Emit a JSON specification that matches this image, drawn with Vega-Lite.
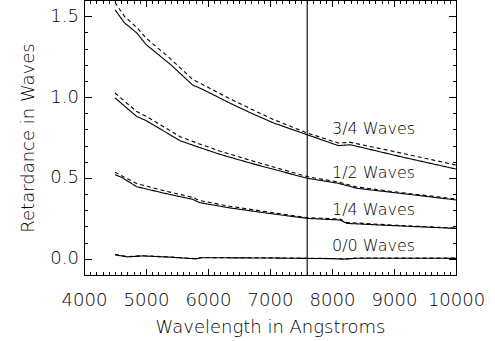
{
  "$schema": "https://vega.github.io/schema/vega-lite/v6.json",
  "width": 372,
  "height": 275,
  "autosize": "none",
  "padding": {"left": 84, "top": 0, "right": 39, "bottom": 66},
  "background": "white",
  "config": {
    "font": "DejaVu Sans",
    "view": {"stroke": "black", "strokeWidth": 1}
  },
  "datasets": {
    "curves": [
      {"w": 4500, "r": 1.54, "curve": "3/4", "kind": "measured"},
      {"w": 4650, "r": 1.46, "curve": "3/4", "kind": "measured"},
      {"w": 4850, "r": 1.397, "curve": "3/4", "kind": "measured"},
      {"w": 5000, "r": 1.325, "curve": "3/4", "kind": "measured"},
      {"w": 5400, "r": 1.2, "curve": "3/4", "kind": "measured"},
      {"w": 5750, "r": 1.075, "curve": "3/4", "kind": "measured"},
      {"w": 5900, "r": 1.05, "curve": "3/4", "kind": "measured"},
      {"w": 6350, "r": 0.963, "curve": "3/4", "kind": "measured"},
      {"w": 6700, "r": 0.9, "curve": "3/4", "kind": "measured"},
      {"w": 7050, "r": 0.841, "curve": "3/4", "kind": "measured"},
      {"w": 7600, "r": 0.767, "curve": "3/4", "kind": "measured"},
      {"w": 8100, "r": 0.7, "curve": "3/4", "kind": "measured"},
      {"w": 8300, "r": 0.705, "curve": "3/4", "kind": "measured"},
      {"w": 9100, "r": 0.632, "curve": "3/4", "kind": "measured"},
      {"w": 10000, "r": 0.555, "curve": "3/4", "kind": "measured"},

      {"w": 4500, "r": 1.585, "curve": "3/4", "kind": "model"},
      {"w": 4650, "r": 1.5, "curve": "3/4", "kind": "model"},
      {"w": 4850, "r": 1.43, "curve": "3/4", "kind": "model"},
      {"w": 5000, "r": 1.365, "curve": "3/4", "kind": "model"},
      {"w": 5400, "r": 1.235, "curve": "3/4", "kind": "model"},
      {"w": 5750, "r": 1.11, "curve": "3/4", "kind": "model"},
      {"w": 5900, "r": 1.08, "curve": "3/4", "kind": "model"},
      {"w": 6350, "r": 0.99, "curve": "3/4", "kind": "model"},
      {"w": 6700, "r": 0.925, "curve": "3/4", "kind": "model"},
      {"w": 7050, "r": 0.862, "curve": "3/4", "kind": "model"},
      {"w": 7600, "r": 0.778, "curve": "3/4", "kind": "model"},
      {"w": 8100, "r": 0.716, "curve": "3/4", "kind": "model"},
      {"w": 8300, "r": 0.72, "curve": "3/4", "kind": "model"},
      {"w": 9100, "r": 0.655, "curve": "3/4", "kind": "model"},
      {"w": 10000, "r": 0.58, "curve": "3/4", "kind": "model"},

      {"w": 4500, "r": 0.995, "curve": "1/2", "kind": "measured"},
      {"w": 4850, "r": 0.88, "curve": "1/2", "kind": "measured"},
      {"w": 5000, "r": 0.855, "curve": "1/2", "kind": "measured"},
      {"w": 5550, "r": 0.73, "curve": "1/2", "kind": "measured"},
      {"w": 5850, "r": 0.69, "curve": "1/2", "kind": "measured"},
      {"w": 6200, "r": 0.645, "curve": "1/2", "kind": "measured"},
      {"w": 6700, "r": 0.59, "curve": "1/2", "kind": "measured"},
      {"w": 7600, "r": 0.498, "curve": "1/2", "kind": "measured"},
      {"w": 8100, "r": 0.467, "curve": "1/2", "kind": "measured"},
      {"w": 8400, "r": 0.436, "curve": "1/2", "kind": "measured"},
      {"w": 9100, "r": 0.405, "curve": "1/2", "kind": "measured"},
      {"w": 10000, "r": 0.364, "curve": "1/2", "kind": "measured"},

      {"w": 4500, "r": 1.025, "curve": "1/2", "kind": "model"},
      {"w": 4850, "r": 0.91, "curve": "1/2", "kind": "model"},
      {"w": 5000, "r": 0.882, "curve": "1/2", "kind": "model"},
      {"w": 5550, "r": 0.755, "curve": "1/2", "kind": "model"},
      {"w": 5850, "r": 0.712, "curve": "1/2", "kind": "model"},
      {"w": 6200, "r": 0.665, "curve": "1/2", "kind": "model"},
      {"w": 6700, "r": 0.607, "curve": "1/2", "kind": "model"},
      {"w": 7600, "r": 0.508, "curve": "1/2", "kind": "model"},
      {"w": 8100, "r": 0.475, "curve": "1/2", "kind": "model"},
      {"w": 8400, "r": 0.444, "curve": "1/2", "kind": "model"},
      {"w": 9100, "r": 0.41, "curve": "1/2", "kind": "model"},
      {"w": 10000, "r": 0.37, "curve": "1/2", "kind": "model"},

      {"w": 4500, "r": 0.52, "curve": "1/4", "kind": "measured"},
      {"w": 4600, "r": 0.505, "curve": "1/4", "kind": "measured"},
      {"w": 4850, "r": 0.446, "curve": "1/4", "kind": "measured"},
      {"w": 5300, "r": 0.405, "curve": "1/4", "kind": "measured"},
      {"w": 5750, "r": 0.368, "curve": "1/4", "kind": "measured"},
      {"w": 5870, "r": 0.347, "curve": "1/4", "kind": "measured"},
      {"w": 6350, "r": 0.315, "curve": "1/4", "kind": "measured"},
      {"w": 7000, "r": 0.28, "curve": "1/4", "kind": "measured"},
      {"w": 7600, "r": 0.25, "curve": "1/4", "kind": "measured"},
      {"w": 8130, "r": 0.24, "curve": "1/4", "kind": "measured"},
      {"w": 8240, "r": 0.219, "curve": "1/4", "kind": "measured"},
      {"w": 9000, "r": 0.205, "curve": "1/4", "kind": "measured"},
      {"w": 10000, "r": 0.188, "curve": "1/4", "kind": "measured"},

      {"w": 4500, "r": 0.535, "curve": "1/4", "kind": "model"},
      {"w": 4600, "r": 0.515, "curve": "1/4", "kind": "model"},
      {"w": 4850, "r": 0.465, "curve": "1/4", "kind": "model"},
      {"w": 5300, "r": 0.42, "curve": "1/4", "kind": "model"},
      {"w": 5750, "r": 0.38, "curve": "1/4", "kind": "model"},
      {"w": 5870, "r": 0.36, "curve": "1/4", "kind": "model"},
      {"w": 6350, "r": 0.325, "curve": "1/4", "kind": "model"},
      {"w": 7000, "r": 0.288, "curve": "1/4", "kind": "model"},
      {"w": 7600, "r": 0.255, "curve": "1/4", "kind": "model"},
      {"w": 8130, "r": 0.246, "curve": "1/4", "kind": "model"},
      {"w": 8240, "r": 0.225, "curve": "1/4", "kind": "model"},
      {"w": 9000, "r": 0.208, "curve": "1/4", "kind": "model"},
      {"w": 10000, "r": 0.19, "curve": "1/4", "kind": "model"},

      {"w": 4500, "r": 0.025, "curve": "0/0", "kind": "measured"},
      {"w": 4700, "r": 0.012, "curve": "0/0", "kind": "measured"},
      {"w": 4950, "r": 0.018, "curve": "0/0", "kind": "measured"},
      {"w": 5400, "r": 0.01, "curve": "0/0", "kind": "measured"},
      {"w": 5800, "r": 0.0, "curve": "0/0", "kind": "measured"},
      {"w": 5900, "r": 0.007, "curve": "0/0", "kind": "measured"},
      {"w": 7000, "r": 0.005, "curve": "0/0", "kind": "measured"},
      {"w": 8000, "r": 0.001, "curve": "0/0", "kind": "measured"},
      {"w": 8200, "r": -0.002, "curve": "0/0", "kind": "measured"},
      {"w": 8400, "r": 0.004, "curve": "0/0", "kind": "measured"},
      {"w": 10000, "r": 0.003, "curve": "0/0", "kind": "measured"},

      {"w": 4500, "r": 0.027, "curve": "0/0", "kind": "model"},
      {"w": 4700, "r": 0.014, "curve": "0/0", "kind": "model"},
      {"w": 4950, "r": 0.019, "curve": "0/0", "kind": "model"},
      {"w": 5400, "r": 0.011, "curve": "0/0", "kind": "model"},
      {"w": 5800, "r": 0.001, "curve": "0/0", "kind": "model"},
      {"w": 5900, "r": 0.008, "curve": "0/0", "kind": "model"},
      {"w": 7000, "r": 0.006, "curve": "0/0", "kind": "model"},
      {"w": 8000, "r": 0.002, "curve": "0/0", "kind": "model"},
      {"w": 8200, "r": -0.001, "curve": "0/0", "kind": "model"},
      {"w": 8400, "r": 0.005, "curve": "0/0", "kind": "model"},
      {"w": 10000, "r": 0.004, "curve": "0/0", "kind": "model"}
    ],
    "labels": [
      {"w": 8000, "r": 0.773, "text": "3/4 Waves"},
      {"w": 8000, "r": 0.497, "text": "1/2 Waves"},
      {"w": 8000, "r": 0.271, "text": "1/4 Waves"},
      {"w": 8000, "r": 0.047, "text": "0/0 Waves"}
    ],
    "cutoff": [
      {"w": 7600}
    ]
  },
  "resolve": {"axis": {"x": "independent", "y": "independent"}},
  "layer": [
    {
      "data": {"name": "curves"},
      "mark": {"type": "line", "color": "black", "strokeWidth": 1.1},
      "encoding": {
        "x": {
          "field": "w",
          "type": "quantitative",
          "scale": {"domain": [4000, 10000], "nice": false, "zero": false},
          "axis": {
            "orient": "bottom",
            "values": [4000,4100,4200,4300,4400,4500,4600,4700,4800,4900,5000,5100,5200,5300,5400,5500,5600,5700,5800,5900,6000,6100,6200,6300,6400,6500,6600,6700,6800,6900,7000,7100,7200,7300,7400,7500,7600,7700,7800,7900,8000,8100,8200,8300,8400,8500,8600,8700,8800,8900,9000,9100,9200,9300,9400,9500,9600,9700,9800,9900,10000],
            "format": "d",
            "labelExpr": "datum.value % 1000 === 0 ? datum.label : ''",
            "labelOverlap": false,
            "labelFlush": false,
            "labelFontSize": 18,
            "labelFontWeight": 200,
            "labelColor": "black",
            "labelPadding": 23,
            "grid": false,
            "domainColor": "black",
            "tickColor": "black",
            "tickSize": {"condition": {"test": "datum.value % 1000 === 0", "value": -6.5}, "value": -3.5},
            "title": "Wavelength in Angstroms",
            "titleFontSize": 18,
            "titleFontWeight": 200,
            "titleColor": "black",
            "titlePadding": 6
          }
        },
        "y": {
          "field": "r",
          "type": "quantitative",
          "scale": {"domain": [-0.1, 1.6], "nice": false, "zero": false},
          "axis": {
            "orient": "left",
            "values": [-0.1,0,0.1,0.2,0.3,0.4,0.5,0.6,0.7,0.8,0.9,1.0,1.1,1.2,1.3,1.4,1.5,1.6],
            "format": ".1f",
            "labelExpr": "abs(datum.value * 2 - round(datum.value * 2)) < 1e-6 ? datum.label : ''",
            "labelOverlap": false,
            "labelFlush": false,
            "labelFontSize": 18,
            "labelFontWeight": 200,
            "labelColor": "black",
            "labelPadding": 13,
            "grid": false,
            "domainColor": "black",
            "tickColor": "black",
            "tickSize": {"condition": {"test": "abs(datum.value * 2 - round(datum.value * 2)) < 1e-6", "value": -7.5}, "value": -3.5},
            "title": "Retardance in Waves",
            "titleFontSize": 18,
            "titleFontWeight": 200,
            "titleColor": "black",
            "titlePadding": 12
          }
        },
        "detail": {"field": "curve"},
        "strokeDash": {
          "field": "kind",
          "type": "nominal",
          "scale": {"domain": ["measured", "model"], "range": [[1, 0], [4, 3]]},
          "legend": null
        }
      }
    },
    {
      "data": {"name": "cutoff"},
      "mark": {"type": "rule", "color": "black", "strokeWidth": 1.1},
      "encoding": {
        "x": {"field": "w", "type": "quantitative", "axis": null}
      }
    },
    {
      "data": {"name": "labels"},
      "mark": {"type": "text", "align": "left", "baseline": "alphabetic", "fontSize": 16, "fontWeight": 200, "color": "black", "font": "DejaVu Sans"},
      "encoding": {
        "x": {
          "field": "w",
          "type": "quantitative",
          "axis": {
            "orient": "top",
            "values": [4000,4100,4200,4300,4400,4500,4600,4700,4800,4900,5000,5100,5200,5300,5400,5500,5600,5700,5800,5900,6000,6100,6200,6300,6400,6500,6600,6700,6800,6900,7000,7100,7200,7300,7400,7500,7600,7700,7800,7900,8000,8100,8200,8300,8400,8500,8600,8700,8800,8900,9000,9100,9200,9300,9400,9500,9600,9700,9800,9900,10000],
            "labels": false,
            "title": null,
            "grid": false,
            "domainColor": "black",
            "tickColor": "black",
            "tickSize": {"condition": {"test": "datum.value % 1000 === 0", "value": -6.5}, "value": -3.5}
          }
        },
        "y": {
          "field": "r",
          "type": "quantitative",
          "axis": {
            "orient": "right",
            "values": [-0.1,0,0.1,0.2,0.3,0.4,0.5,0.6,0.7,0.8,0.9,1.0,1.1,1.2,1.3,1.4,1.5,1.6],
            "labels": false,
            "title": null,
            "grid": false,
            "domainColor": "black",
            "tickColor": "black",
            "tickSize": {"condition": {"test": "abs(datum.value * 2 - round(datum.value * 2)) < 1e-6", "value": -7.5}, "value": -3.5}
          }
        },
        "text": {"field": "text"}
      }
    }
  ]
}
